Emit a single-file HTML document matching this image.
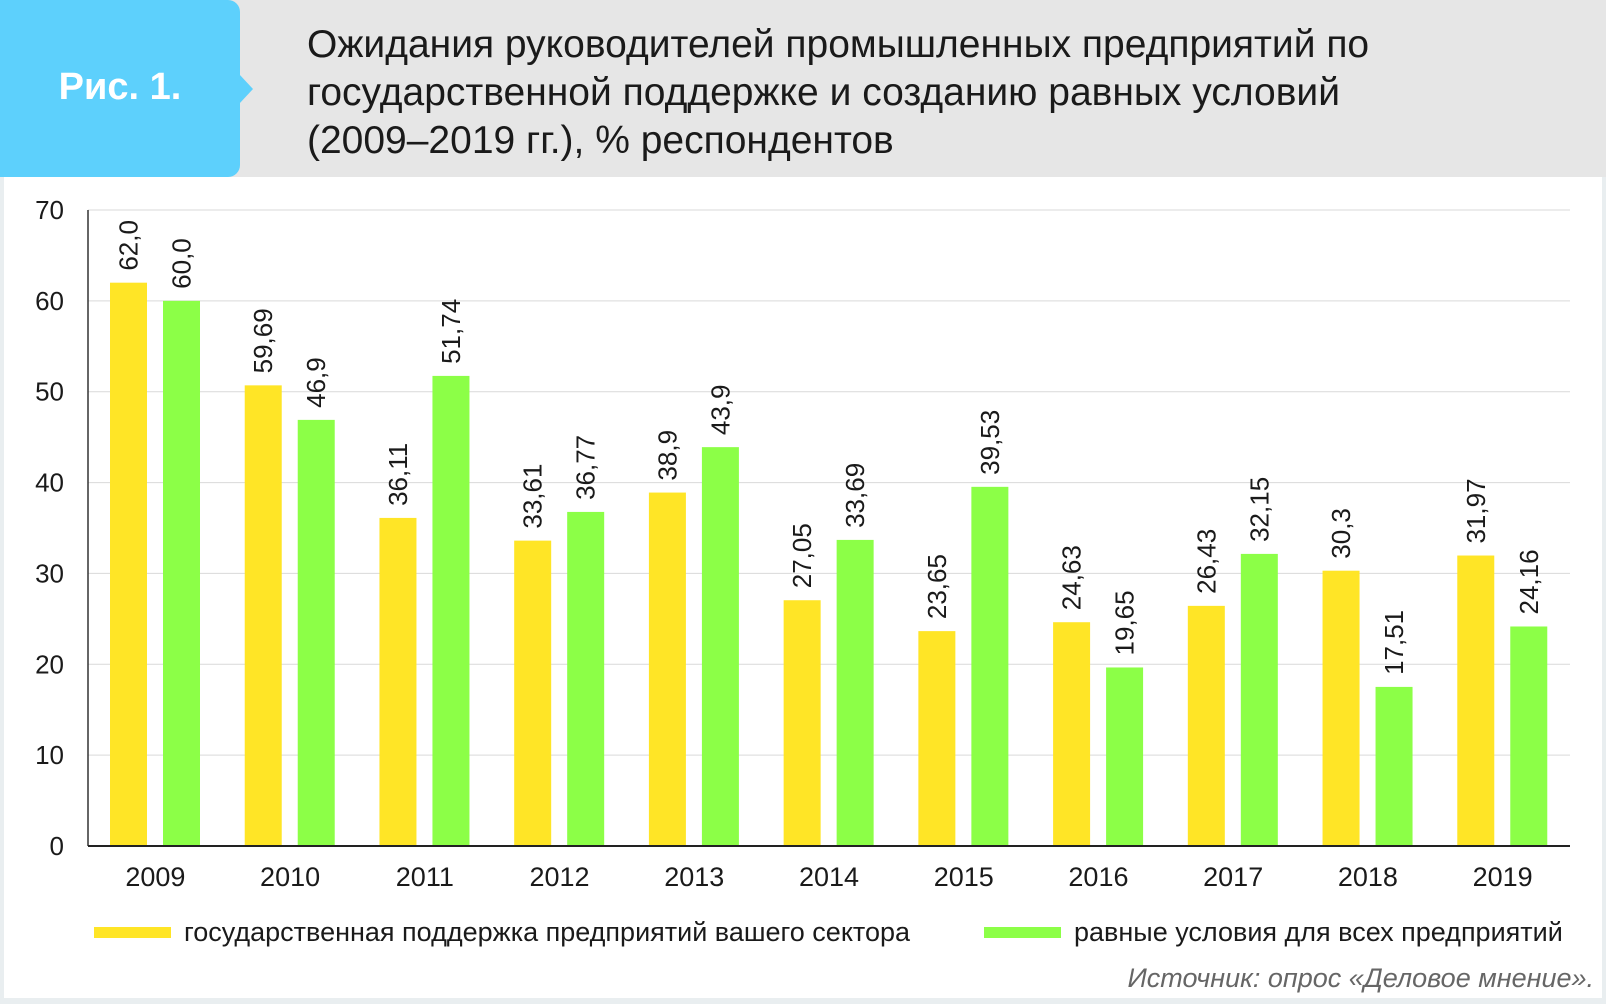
<!DOCTYPE html>
<html><head><meta charset="utf-8"><style>
body{margin:0;width:1606px;height:1004px;background:#e9eef0;font-family:"Liberation Sans","DejaVu Sans",sans-serif;overflow:hidden;position:relative}
#white{position:absolute;left:4px;top:0;width:1598px;height:998px;background:#fff}
#header{position:absolute;left:0;top:0;width:1606px;height:177px;background:#e6e6e6}
#badge{position:absolute;left:0;top:0;width:240px;height:177px;background:#5dd0fc;border-radius:0 12px 12px 0}
#arrow{position:absolute;left:239px;top:74px;width:0;height:0;border-top:15px solid transparent;border-bottom:15px solid transparent;border-left:14px solid #5dd0fc}
#badge span{position:absolute;left:0;width:240px;top:66px;text-align:center;color:#fff;font-weight:bold;font-size:38px}
#title{position:absolute;left:307px;top:21px;font-size:39px;line-height:48px;color:#1a1a1a;white-space:nowrap}
svg{position:absolute;left:0;top:0}
</style></head><body>
<div id="white"></div>
<div id="header"></div>
<div id="badge"><span>Рис. 1.</span></div>
<div id="arrow"></div>
<div id="title">Ожидания руководителей промышленных предприятий по<br>государственной поддержке и созданию равных условий<br>(2009–2019 гг.), % респондентов</div>
<svg id="chart" width="1606" height="1004"></svg>
<script>
const categories=["2009","2010","2011","2012","2013","2014","2015","2016","2017","2018","2019"];
const supportValues=[62.0,50.7,36.11,33.61,38.9,27.05,23.65,24.63,26.43,30.3,31.97];
const supportLabels=["62,0","59,69","36,11","33,61","38,9","27,05","23,65","24,63","26,43","30,3","31,97"];
const equalValues=[60.0,46.9,51.74,36.77,43.9,33.69,39.53,19.65,32.15,17.51,24.16];
const equalLabels=["60,0","46,9","51,74","36,77","43,9","33,69","39,53","19,65","32,15","17,51","24,16"];
const yTicks=[0,10,20,30,40,50,60,70];
const NS="http://www.w3.org/2000/svg";
const svg=document.getElementById('chart');
const x0=88,x1=1570,yTop=210,yBot=846,yMax=70;
const y=v=>yBot-(v/yMax)*(yBot-yTop);
const gw=(x1-x0)/categories.length;
const gx=i=>x0+i*gw;
function mk(t,a){const e=document.createElementNS(NS,t);for(const k in a)e.setAttribute(k,a[k]);svg.appendChild(e);return e;}
yTicks.forEach(t=>{
  if(t>0){const g=mk('line',{x1:x0,x2:x1,y1:y(t),y2:y(t),stroke:'#d9d9d9','stroke-width':1});
  
  }
  const l=mk('text',{x:64,y:y(t)+9,'text-anchor':'end','font-size':26,fill:'#1a1a1a'});
  l.textContent=t;
  
  
});
const bw=37;
function bars(vals,labs,off,color,name){
  vals.forEach((v,i)=>{
    const bx=gx(i)+off;
    const r=mk('rect',{x:bx,y:y(v),width:bw,height:yBot-y(v),fill:color});
    
    
    const cx=bx+bw/2+9,cy=y(v)-12;
    const t=mk('text',{x:cx,y:cy,'font-size':26,fill:'#1a1a1a',transform:`rotate(-90 ${cx} ${cy})`});
    t.textContent=labs[i];
    
    
  });
}
bars(supportValues,supportLabels,22,'#ffe526','support');
bars(equalValues,equalLabels,75,'#8cff47','equal');
categories.forEach((c,i)=>{
  const t=mk('text',{x:gx(i)+gw/2,y:886,'text-anchor':'middle','font-size':27,fill:'#1a1a1a'});
  t.textContent=c;
  
  
});
const ya=mk('line',{x1:x0,x2:x0,y1:yTop,y2:yBot,stroke:'#333','stroke-width':1.5});


const xa=mk('line',{x1:x0,x2:x1,y1:yBot,y2:yBot,stroke:'#222','stroke-width':2});


const legend=[["#ffe526","государственная поддержка предприятий вашего сектора",94],["#8cff47","равные условия для всех предприятий",984]];
legend.forEach(l=>{
  const r=mk('rect',{x:l[2],y:927,width:77,height:11,fill:l[0]});
  
  
  const t=mk('text',{x:l[2]+90,y:941,'font-size':27,fill:'#1a1a1a'});
  t.textContent=l[1];
  
  
});
const s=mk('text',{x:1594,y:987,'text-anchor':'end','font-size':27,'font-style':'italic',fill:'#666'});
s.textContent='Источник: опрос «Деловое мнение».';


</script>
</body></html>
